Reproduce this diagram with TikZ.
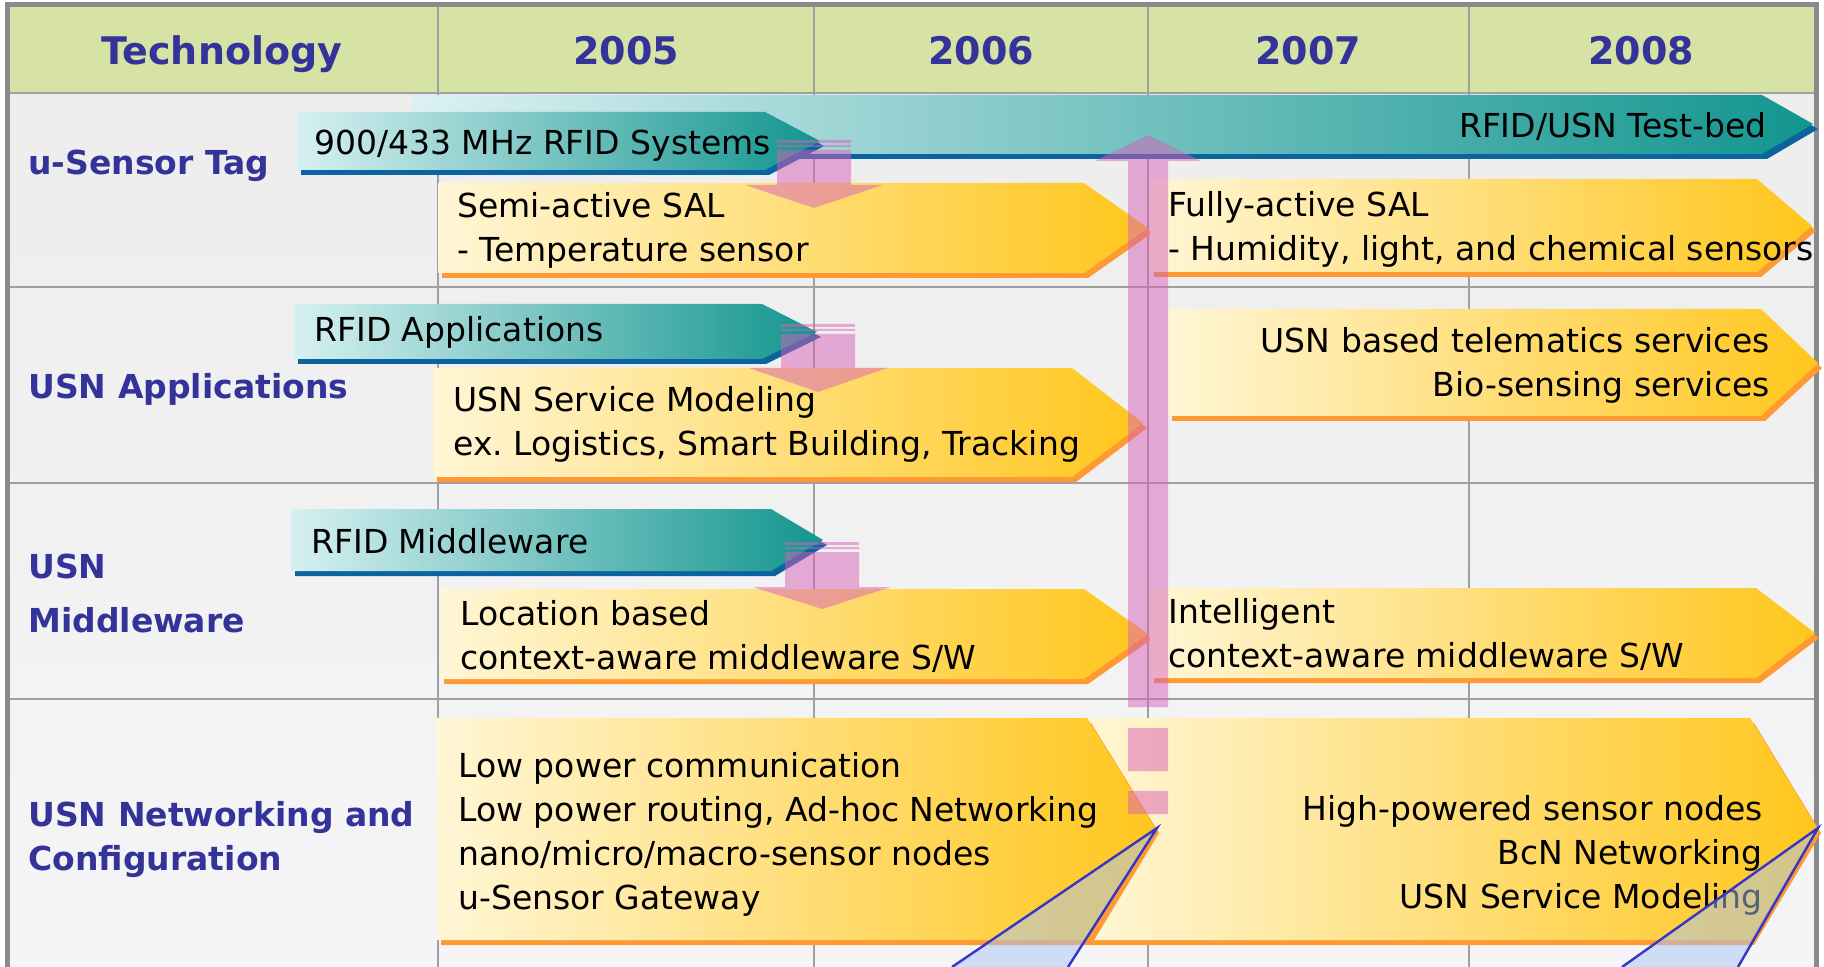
\documentclass[tikz,border=0pt]{standalone}
\usepackage{fontspec}
\setmainfont{DejaVu Sans}
\usepackage{tikz}
\frenchspacing

\definecolor{hdgreen}{HTML}{D6E3A4}
\definecolor{navy}{HTML}{333399}
\definecolor{bodyg}{HTML}{EEEDED}
\definecolor{bodyl}{HTML}{F5F5F7}
\definecolor{gridgray}{HTML}{A0A0A0}
\definecolor{framegray}{HTML}{8A8A8A}
\definecolor{bedl}{HTML}{DCF1F3}
\definecolor{bedm}{HTML}{A2CFCF}
\definecolor{teall}{HTML}{D6F0F1}
\definecolor{tealm}{HTML}{A8D3D3}
\definecolor{teald}{HTML}{12958F}
\definecolor{tealsh}{HTML}{0B64A0}
\definecolor{orl}{HTML}{FFF6D6}
\definecolor{orm}{HTML}{FFE4A0}
\definecolor{ord}{HTML}{FFC61C}
\definecolor{orsh}{HTML}{FF9A33}
\definecolor{pinkc}{HTML}{D860B8}
\definecolor{wedgeblue}{HTML}{A8C4F4}
\definecolor{wedgeline}{HTML}{3535C8}

% left, top, end of flat part, tip x, tip y, bottom
\newcommand{\tagpath}[6]{(#1,#2) -- (#3,#2) -- (#4,#5) -- (#3,#6) -- (#1,#6) -- cycle}
\newcommand{\cellL}[1]{\begin{tabular}[t]{@{}l@{}}#1\end{tabular}}
\newcommand{\cellR}[1]{\begin{tabular}[t]{@{}r@{}}#1\end{tabular}}

\begin{document}
\begin{tikzpicture}[x=0.5pt,y=-0.5pt,
  hd/.style={font=\fontsize{19}{23}\selectfont\bfseries, text=navy, anchor=base, inner sep=0},
  rowlbl/.style={font=\fontsize{16.5}{22}\selectfont\bfseries, text=navy, anchor=base west, inner sep=0},
  txt/.style={font=\fontsize{16.5}{22}\selectfont, anchor=base west, inner sep=0},
  gridln/.style={draw=gridgray, line width=0.75pt},
  pinkbar/.style={fill=pinkc, fill opacity=0.5},
  wedge/.style={fill=wedgeblue, fill opacity=0.5}]
\useasboundingbox[fill=white] (0,0) rectangle (1824,967);

% table
\fill[hdgreen] (7,5) rectangle (1816,93);
\shade[top color=bodyg, bottom color=bodyl] (7,93) rectangle (1816,967);
\foreach \gx in {438,814,1148,1469} \draw[gridln] (\gx,5) -- (\gx,967);
\foreach \gy in {93,287,483,699} \draw[gridln] (7,\gy) -- (1816,\gy);
\draw[framegray, line width=2.5pt] (7,967) -- (7,5) -- (1816,5) -- (1816,967);

\node[hd] (tech) at (222,65) {Technology};
\node[hd] (y05) at (626,65) {2005};
\node[hd] (y06) at (981,65) {2006};
\node[hd] (y07) at (1308,65) {2007};
\node[hd] (y08) at (1641,65) {2008};

\node[rowlbl] (rtag) at (28,175) {u-Sensor Tag};
\node[rowlbl] (rapp) at (28,399) {USN Applications};
\node[rowlbl] (rmid) at (28,578) {\cellL{USN\\[5pt]Middleware}};
\node[rowlbl] (rnet) at (28,826) {\cellL{USN Networking and\\Configuration}};

% teal arrows
\fill[tealsh, shift={(5,5)}] \tagpath{412}{95}{1762}{1813}{124}{154};
\shade[left color=bedl, middle color=bedm, right color=teald] \tagpath{412}{95}{1762}{1813}{124}{154};
\foreach \xa/\ya/\xb/\xc/\yc/\yb in {297/112/765/820/141/170, 294/304/762/817/332/359, 291/509/771/823/540/571}{
  \fill[tealsh, shift={(4,5)}] \tagpath{\xa}{\ya}{\xb}{\xc}{\yc}{\yb};
  \shade[left color=teall, middle color=tealm, right color=teald] \tagpath{\xa}{\ya}{\xb}{\xc}{\yc}{\yb};
}

% orange arrows
\foreach \xa/\ya/\xb/\xc/\yc/\yb in {438/183/1084/1148/228/273, 1150/179/1757/1812/226/272,
    433/368/1072/1143/423/477, 1168/309/1761/1818/363/416, 440/589/1084/1148/634/679,
    1150/588/1756/1815/633/678, 1087/718/1750/1817/828/940, 437/718/1087/1155/828/940}{
  \fill[orsh, shift={(4,5)}] \tagpath{\xa}{\ya}{\xb}{\xc}{\yc}{\yb};
  \shade[left color=orl, middle color=orm, right color=ord] \tagpath{\xa}{\ya}{\xb}{\xc}{\yc}{\yb};
}

\node[txt, anchor=base east] (tbed) at (1767,138) {RFID/USN Test-bed};
\node[txt] (t900) at (314,155) {900/433 MHz RFID Systems};
\node[txt] (tsemi) at (457,218) {\cellL{Semi-active SAL\\- Temperature sensor}};
\node[txt] (tfully) at (1168,217) {\cellL{Fully-active SAL\\- Humidity, light, and chemical sensors}};
\node[txt] (trfapp) at (314,342) {RFID Applications};
\node[txt] (tmodel) at (453,412) {\cellL{USN Service Modeling\\ex. Logistics, Smart Building, Tracking}};
\node[txt, anchor=base east] (ttele) at (1770,353) {\cellR{USN based telematics services\\Bio-sensing services}};
\node[txt] (trfmid) at (311,553) {RFID Middleware};
\node[txt] (tloc) at (460,625) {\cellL{Location based\\context-aware middleware S/W}};
\node[txt] (tint) at (1168,623) {\cellL{Intelligent\\context-aware middleware S/W}};
\node[txt] (tlow) at (458,777) {\cellL{Low power communication\\Low power routing, Ad-hoc Networking\\nano/micro/macro-sensor nodes\\u-Sensor Gateway}};
\node[txt, anchor=base east] (thigh) at (1763,820) {\cellR{High-powered sensor nodes\\BcN Networking\hspace{6.5pt}\\USN Service Modeling}};

% pink arrows
\foreach \cx/\ys/\yb/\yt in {814/140/185/208, 818/324/368/392, 822/542/587/609}{
  \fill[pinkbar] ({\cx-37},\ys) rectangle ({\cx+37},{\ys+3})
    ({\cx-37},{\ys+5}) rectangle ({\cx+37},{\ys+7})
    ({\cx-37},{\ys+10}) rectangle ({\cx+37},\yb)
    ({\cx-69},\yb) -- ({\cx+69},\yb) -- (\cx,\yt) -- cycle;
}
\fill[pinkbar] (1095,161) -- (1201,161) -- (1148,135) -- cycle
  (1128,161) rectangle (1168,707) (1128,728) rectangle (1168,771) (1128,791) rectangle (1168,814);

% wedges
\fill[wedge] (1157,828) -- (952,967) -- (1068,967) -- cycle;
\draw[wedgeline, line width=1.2pt] (952,967) -- (1157,828) -- (1068,967);
\fill[wedge] (1818,828) -- (1622,967) -- (1738,967) -- cycle;
\draw[wedgeline, line width=1.2pt] (1622,967) -- (1818,828) -- (1738,967);
\end{tikzpicture}
\end{document}
